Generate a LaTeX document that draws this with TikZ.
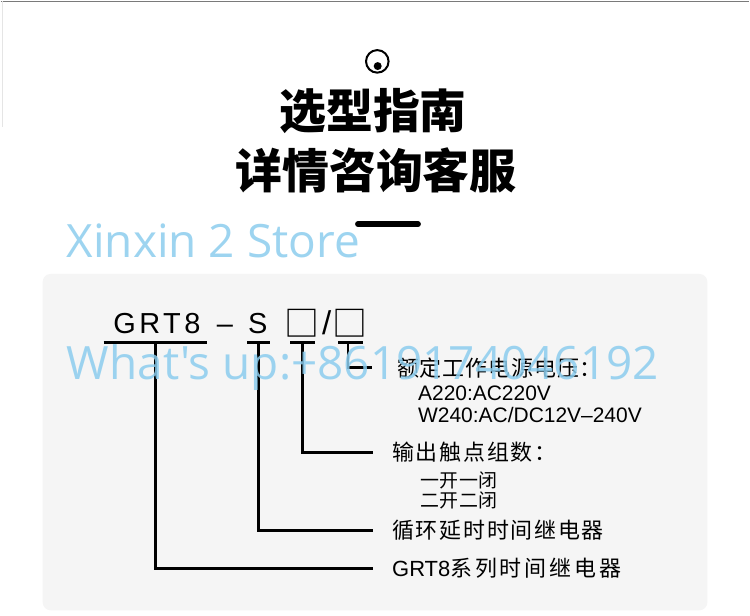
\documentclass[tikz,border=0pt]{standalone}
\usepackage{fontspec}
\setmainfont{Liberation Sans}
\newfontfamily\cjk{Noto Sans CJK SC}
\newfontfamily\wmfont{Open Sans}
\usetikzlibrary{positioning}
\definecolor{boxgray}{HTML}{F5F5F5}
\definecolor{wmblue}{RGB}{140,205,238}
\definecolor{edgegray}{HTML}{7A7A7A}

\begin{document}
\begin{tikzpicture}[x=1pt,y=-1pt,
    lbl/.style={anchor=west,inner sep=0pt,font=\cjk\fontsize{22}{26}\selectfont\addfontfeature{LetterSpace=8}},
    opt/.style={anchor=west,inner sep=0pt,font=\cjk\fontsize{19}{23}\selectfont\addfontfeature{LetterSpace=3}},
    volt/.style={anchor=base west,inner sep=0pt,font=\fontsize{21}{25}\selectfont},
    code/.style={anchor=base,inner sep=0pt,font=\fontsize{29}{34}\selectfont},
    cbox/.style={inner sep=0pt,font=\cjk\fontsize{35}{40}\selectfont},
    title/.style={inner sep=0pt,font=\cjk\bfseries\fontsize{47}{56}\selectfont},
    bar/.style={line width=3pt},
    conn/.style={line width=2.6pt},
    wmark/.style={anchor=base west,inner sep=0pt,text=wmblue,text opacity=.85,font=\wmfont\fontsize{46}{52}\selectfont}]
    % page and panel
    \fill[white] (0,0) rectangle (750,616);
    \draw[edgegray,line width=1.5pt] (0,0.75) -- (750,0.75);
    \draw[gray!20,line width=1pt] (1.5,0) -- (1.5,127);
    \fill[boxgray,rounded corners=8pt] (42,274) rectangle (708,611);
    % heading
    \draw[line width=2pt] (377.3,61) circle (11.3);
    \fill (377.7,65.7) circle (4);
    \node[title] (head) at (373,111) {选型指南};
    \node[title] (subhead) at (376,170) {详情咨询客服};
    \draw[line width=6pt,line cap=round] (358,224) -- (418,224);
    % model code
    \node[code] (gname) at (156.5,334) {\addfontfeature{LetterSpace=12}GRT8};
    \node[code] (dash) at (224.5,334) {–};
    \node[code] (sname) at (257.5,334) {S};
    \node[cbox] (box1) at (302,323.5) {□};
    \node[code,font=\fontsize{33}{38}\selectfont] (slash) at (326.5,335) {/};
    \node[cbox] (box2) at (350,323.5) {□};
    \draw[bar] (103,343) -- (207,343);
    \draw[bar] (247,343) -- (270,343);
    \draw[bar] (290,343) -- (315,343);
    \draw[bar] (338,343) -- (363,343);
    \coordinate (gtap) at (155,343);
    \coordinate (stap) at (258.5,343);
    \coordinate (ctap) at (302.5,343);
    \coordinate (vtap) at (348,343);
    % labels
    \node[lbl,font=\cjk\fontsize{22}{26}\selectfont\addfontfeature{LetterSpace=4}] (lblA) at (397,368) {额定工作电源电压：};
    \node[volt] (volt1) at (418,400.5) {A220:AC220V};
    \node[volt] (volt2) at (418,422.5) {W240:AC/DC12V–240V};
    \node[lbl] (lblB) at (392,453) {输出触点组数：};
    \node[opt] (opt1) at (420,481) {一开一闭};
    \node[opt] (opt2) at (420,501) {二开二闭};
    \node[lbl] (lblC) at (392,531) {循环延时时间继电器};
    \node[lbl] (lblD) at (392,569) {{\rmfamily\fontsize{22}{26}\selectfont GRT8}\addfontfeature{LetterSpace=13}系列时间继电器};
    % connectors
    \draw[conn,shorten >=25pt] (vtap) |- (lblA);
    \draw[conn,shorten >=19pt] (ctap) |- (lblB);
    \draw[conn,shorten >=19pt] (stap) |- (lblC);
    \draw[conn,shorten >=19pt] (gtap) |- (lblD);
    % watermark
    \node[wmark] (wm1) at (66,258) {Xinxin 2 Store};
    \node[wmark] (wm2) at (66,380) {What's up:+8619174046192};
\end{tikzpicture}
\end{document}
